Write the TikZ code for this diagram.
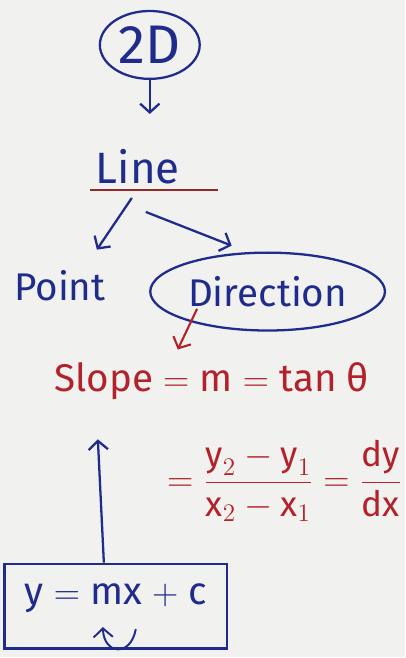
\documentclass[tikz,border=0pt]{standalone}
\usepackage{amsmath}
\usepackage{fontspec}
\setmainfont{Fira Sans}
\usetikzlibrary{arrows.meta,positioning,calc,shapes.geometric}
\definecolor{paper}{HTML}{F1F1EF}
\definecolor{inkblue}{HTML}{1F2C8C}
\definecolor{inkred}{HTML}{B3222A}
\definecolor{linered}{HTML}{8E2A2A}

\begin{document}
\begin{tikzpicture}[
    x=0.02cm, y=-0.02cm,
    hand/.style={font=\fontsize{22}{26}\selectfont, inner sep=2pt},
    bluetxt/.style={hand, text=inkblue},
    redtxt/.style={hand, text=inkred},
    loop/.style={draw=inkblue, line width=1.3pt, ellipse, inner sep=0pt},
    barrow/.style={-{Straight Barb[length=5pt,width=11pt]}, line width=1.3pt, color=inkblue},
    rarrow/.style={-{Straight Barb[length=5pt,width=11pt]}, line width=1.2pt, color=inkred}
]

\fill[paper] (0,0) rectangle (406,658);

\node[loop, bluetxt, font=\fontsize{31}{34}\selectfont, minimum width=2cm, minimum height=1.36cm] (twod) at (150,45) {2D};
\node[bluetxt, font=\fontsize{25}{28}\selectfont] (line) at (138,167) {Line};
\draw[color=linered, line width=1pt] ($(line.south west)+(-2,2)$) -- ($(line.south east)+(34,2)$);

\node[bluetxt] (point) at (60,286) {Point};
\node[loop, bluetxt, minimum width=4.1cm, minimum height=1.56cm] (dir) at (268,292) {Direction};

\node[redtxt] (slope) at (212,382) {Slope $=$ m $=$ tan θ};
\node[redtxt, font=\fontsize{20}{24}\selectfont] (ratio) at (285,482) {$=\dfrac{\text{y}_2-\text{y}_1}{\text{x}_2-\text{x}_1}=\dfrac{\text{dy}}{\text{dx}}$};

\node[draw=inkblue, line width=1.3pt, bluetxt, minimum width=4.46cm, minimum height=1.7cm, text depth=0.5cm] (eqn) at (116,607) {y $=$ mx $+$ c};

\coordinate (pointtip) at (97,250);
\coordinate (dirtip) at (232,246);
\coordinate (slopetip) at (178,350);
\coordinate (slopefoot) at (98,440);
\coordinate (hookstart) at (136,630);
\coordinate (hooktip) at (103,628);

\draw[barrow] (twod.south) -- ++(0,34);
\draw[barrow] ($(line.south)+(-6,10)$) -- (pointtip);
\draw[barrow] ($(line.south)+(8,24)$) -- (dirtip);
\draw[rarrow, shorten <=-7pt] ($(dir.south west)+(8,0)$) -- (slopetip);
\draw[barrow] ($(eqn.north)+(-12,0)$) -- (slopefoot);
\draw[barrow, line width=1.1pt] (hookstart) .. controls (131,658) and (104,656) .. (hooktip);

\end{tikzpicture}
\end{document}
